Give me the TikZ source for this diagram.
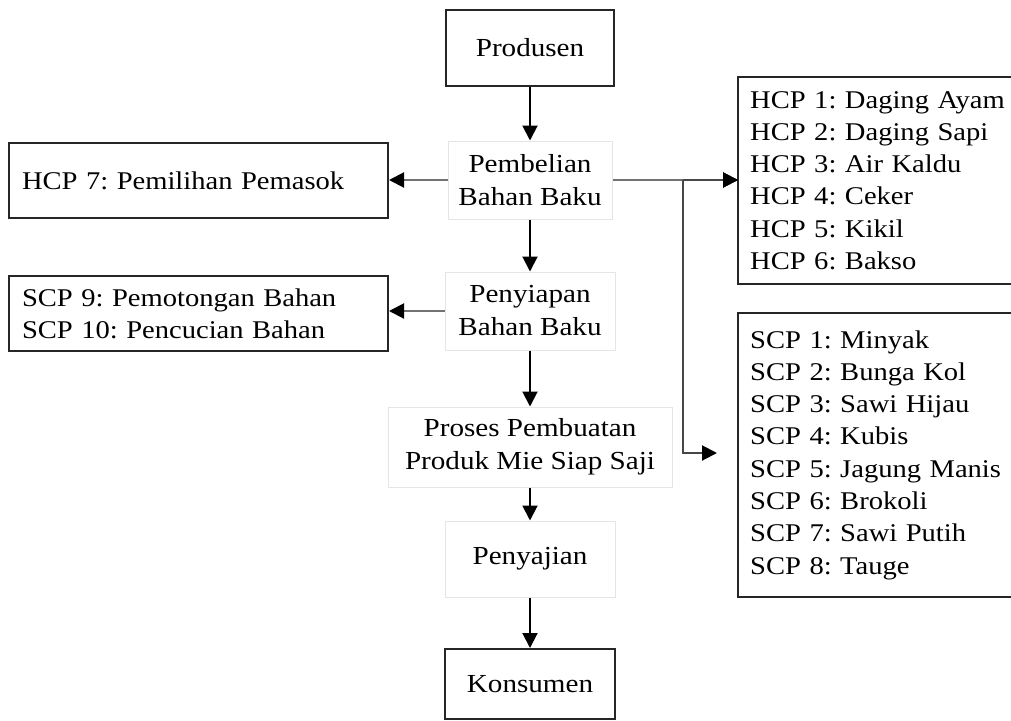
\documentclass[tikz,border=0pt]{standalone}
\usepackage{fontspec}
\setmainfont{Liberation Serif}[FakeStretch=1.12]
\usetikzlibrary{arrows.meta}
\frenchspacing
\newcommand{\diafont}{\fontsize{26}{33}\selectfont\frenchspacing}
\newcommand{\listfont}{\fontsize{25.5}{32.3}\selectfont\frenchspacing}
\begin{document}
\begin{tikzpicture}[x=1pt,y=-1pt,
  box/.style={draw=black!85, line width=2pt, inner sep=0pt, font=\diafont, align=center},
  faint/.style={draw=black!10, line width=1pt, inner sep=0pt, font=\diafont, align=center},
  listbox/.style={draw=black!85, line width=2pt, inner xsep=12pt, inner ysep=0pt, font=\listfont, align=left},
  openbox/.style={draw=none, inner xsep=12pt, inner ysep=0pt, font=\listfont, align=left},
  frame/.style={draw=black!85, line width=2pt},
  arr/.style={draw=black, line width=2pt, -{Triangle[length=15pt,width=15pt]}},
  garr/.style={draw=black!55, line width=2pt, -{Triangle[length=15pt,width=15pt,color=black]}},
  darr/.style={draw=black!72, line width=2pt, -{Triangle[length=15pt,width=15pt,color=black]}}
]
\useasboundingbox (0,0) rectangle (1011,720);
\fill[white] (0,0) rectangle (1011,720);
\coordinate (rx) at (1100,0);

\node[box, minimum width=168, minimum height=76] (prod) at (530,48) {Produsen};
\node[faint, minimum width=164, minimum height=78] (beli) at (530,180) {Pembelian\\Bahan Baku};
\node[faint, minimum width=170, minimum height=78] (siap) at (530,311) {Penyiapan\\Bahan Baku};
\node[faint, minimum width=284, minimum height=80] (proses) at (530,447) {Proses Pembuatan\\Produk Mie Siap Saji};
\node[faint, minimum width=170, minimum height=76] (saji) at (530,559) {Penyajian};
\node[box, minimum width=170, minimum height=70] (kons) at (530,684) {Konsumen};

\node[listbox, minimum width=379, minimum height=75, text width=353] (hcp7) at (198.5,180.5) {HCP 7: Pemilihan Pemasok};
\node[listbox, minimum width=379, minimum height=75, text width=353] (scp9) at (198.5,313.5) {SCP 9: Pemotongan Bahan\\SCP 10: Pencucian Bahan};

\node[openbox, anchor=west, minimum height=207, text width=286] (hcp) at (738,180.5) {HCP 1: Daging Ayam\\HCP 2: Daging Sapi\\HCP 3: Air Kaldu\\HCP 4: Ceker\\HCP 5: Kikil\\HCP 6: Bakso};
\node[openbox, anchor=west, minimum height=284, text width=286] (scp) at (738,455) {SCP 1: Minyak\\SCP 2: Bunga Kol\\SCP 3: Sawi Hijau\\SCP 4: Kubis\\SCP 5: Jagung Manis\\SCP 6: Brokoli\\SCP 7: Sawi Putih\\SCP 8: Tauge};
\draw[frame] (hcp.north west -| rx) -- (hcp.north west) -- (hcp.south west) -- (hcp.south west -| rx);
\draw[frame] (scp.north west -| rx) -- (scp.north west) -- (scp.south west) -- (scp.south west -| rx);

\draw[arr] (prod.south) -- (beli.north);
\draw[arr] (beli.south) -- (siap.north);
\draw[arr] (siap.south) -- (proses.north);
\draw[arr] (proses.south) -- (saji.north);
\draw[arr] (saji.south) -- (kons.north);

\draw[garr] (beli.west) -- (beli.west -| hcp7.east);
\draw[garr] (siap.west) -- (siap.west -| scp9.east);

\coordinate (j) at (683,180);
\coordinate (scpin) at (717,453);
\draw[garr] (beli.east) -- (beli.east -| hcp.west);
\draw[darr] (j) -- (beli.east -| hcp.west);
\draw[darr] (j) |- (scpin);
\end{tikzpicture}
\end{document}
